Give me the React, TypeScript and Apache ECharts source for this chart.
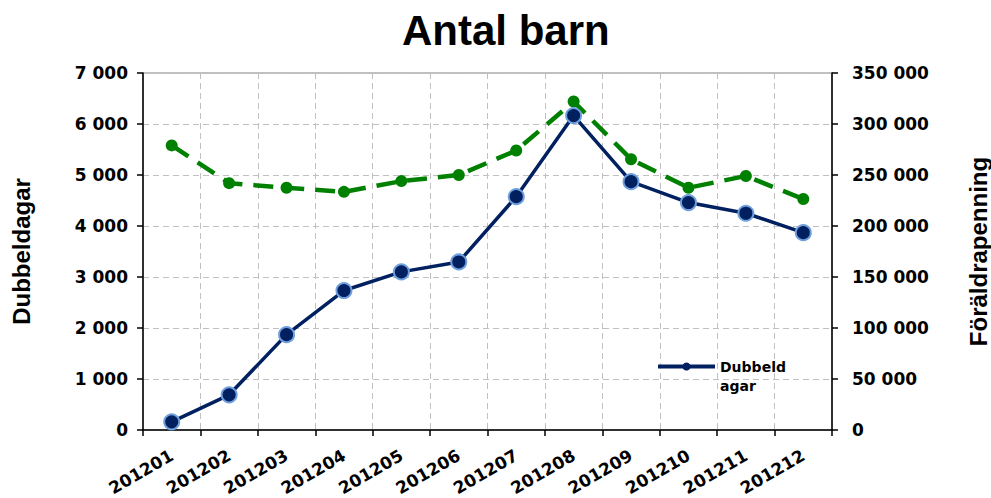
import React, { useEffect, useRef } from "react";
import * as echarts from "echarts";

const categories = ["201201","201202","201203","201204","201205","201206","201207","201208","201209","201210","201211","201212"];
const dubbeldagar = [160, 690, 1870, 2735, 3100, 3295, 4575, 6165, 4870, 4460, 4250, 3870];
const foraldrapenning = [279000, 242000, 237500, 233500, 244000, 250000, 274000, 322000, 265500, 237500, 249000, 226500];
const leftTicks = { min: 0, max: 7000, interval: 1000 };
const rightTicks = { min: 0, max: 350000, interval: 50000 };

const fmt = (v: number) => String(v).replace(/\B(?=(\d{3})+(?!\d))/g, " ");

export default function App() {
  const ref = useRef<HTMLDivElement>(null);
  useEffect(() => {
    const chart = echarts.init(ref.current!, null, { renderer: "svg" });
    const font = "Liberation Sans, Arial, sans-serif";
    const tickFont = "DejaVu Sans, Verdana, sans-serif";
    chart.setOption({
      animation: false,
      backgroundColor: "#fff",
      title: {
        text: "Antal barn",
        left: 397,
        top: 4,
        textStyle: { fontFamily: font, fontWeight: "bold", fontSize: 42, color: "#000" },
      },
      grid: { left: 143, right: 159, top: 73, bottom: 68, show: true, borderColor: "#808080", borderWidth: 1, backgroundColor: "transparent", containLabel: false, outerBoundsMode: "none" },
      legend: {
        data: ["Dubbeldagar"],
        left: 651,
        top: 333,
        padding: 5,
        itemWidth: 57,
        itemHeight: 10,
        itemGap: 0,
        lineStyle: { width: 4, color: "#002060" },
        itemStyle: { color: "#002060", borderWidth: 0 },
        formatter: () => "\nDubbeld\nagar",
        textStyle: { fontFamily: tickFont, fontSize: 14, fontWeight: "bold", color: "#000", lineHeight: 19 },
      },
      xAxis: {
        type: "category",
        data: categories,
        boundaryGap: true,
        axisLine: { lineStyle: { color: "#000", width: 1.5 } },
        axisTick: { show: true, length: 6, lineStyle: { color: "#000", width: 1.5 } },
        splitLine: { show: true, lineStyle: { color: "#c0c0c0", type: [6, 4], width: 1 } },
        axisLabel: { rotate: 30, margin: 24, fontFamily: tickFont, fontWeight: "bold", fontSize: 17, color: "#000" },
      },
      yAxis: [
        {
          type: "value",
          ...leftTicks,
          name: "Dubbeldagar",
          nameLocation: "middle",
          nameGap: 110,
          nameTextStyle: { fontFamily: font, fontWeight: "bold", fontSize: 24, color: "#000" },
          axisLine: { show: true, lineStyle: { color: "#000", width: 1.5 } },
          axisTick: { show: true, length: 6, lineStyle: { color: "#000", width: 1.5 } },
          splitLine: { show: true, lineStyle: { color: "#c0c0c0", type: [6, 4], width: 1 } },
          axisLabel: { formatter: (v: number) => fmt(v), margin: 15, fontFamily: tickFont, fontWeight: "bold", fontSize: 17, color: "#000" },
        },
        {
          type: "value",
          ...rightTicks,
          position: "right",
          name: "Föräldrapenning",
          nameLocation: "middle",
          nameGap: 134,
          nameRotate: 90,
          nameTextStyle: { fontFamily: font, fontWeight: "bold", fontSize: 24, color: "#000" },
          axisLine: { show: true, lineStyle: { color: "#000", width: 1.5 } },
          axisTick: { show: true, length: 6, lineStyle: { color: "#000", width: 1.5 } },
          splitLine: { show: false },
          axisLabel: { formatter: (v: number) => fmt(v), margin: 20, fontFamily: tickFont, fontWeight: "bold", fontSize: 17, color: "#000" },
        },
      ],
      series: [
        {
          name: "Föräldrapenning",
          type: "line",
          yAxisIndex: 1,
          data: foraldrapenning,
          symbol: "circle",
          symbolSize: 12,
          itemStyle: { color: "#008000" },
          lineStyle: { color: "#008000", width: 4.5, type: [20, 11] },
          z: 2,
        },
        {
          name: "Dubbeldagar",
          type: "line",
          yAxisIndex: 0,
          data: dubbeldagar,
          symbol: "circle",
          symbolSize: 15,
          itemStyle: { color: "#002060", borderColor: "#6f9fdc", borderWidth: 2 },
          lineStyle: { color: "#002060", width: 3.5 },
          z: 3,
        },
      ],
    });
    return () => chart.dispose();
  }, []);
  return <div ref={ref} style={{ width: 991, height: 498, position: "absolute", left: 0, top: 0 }} />;
}
